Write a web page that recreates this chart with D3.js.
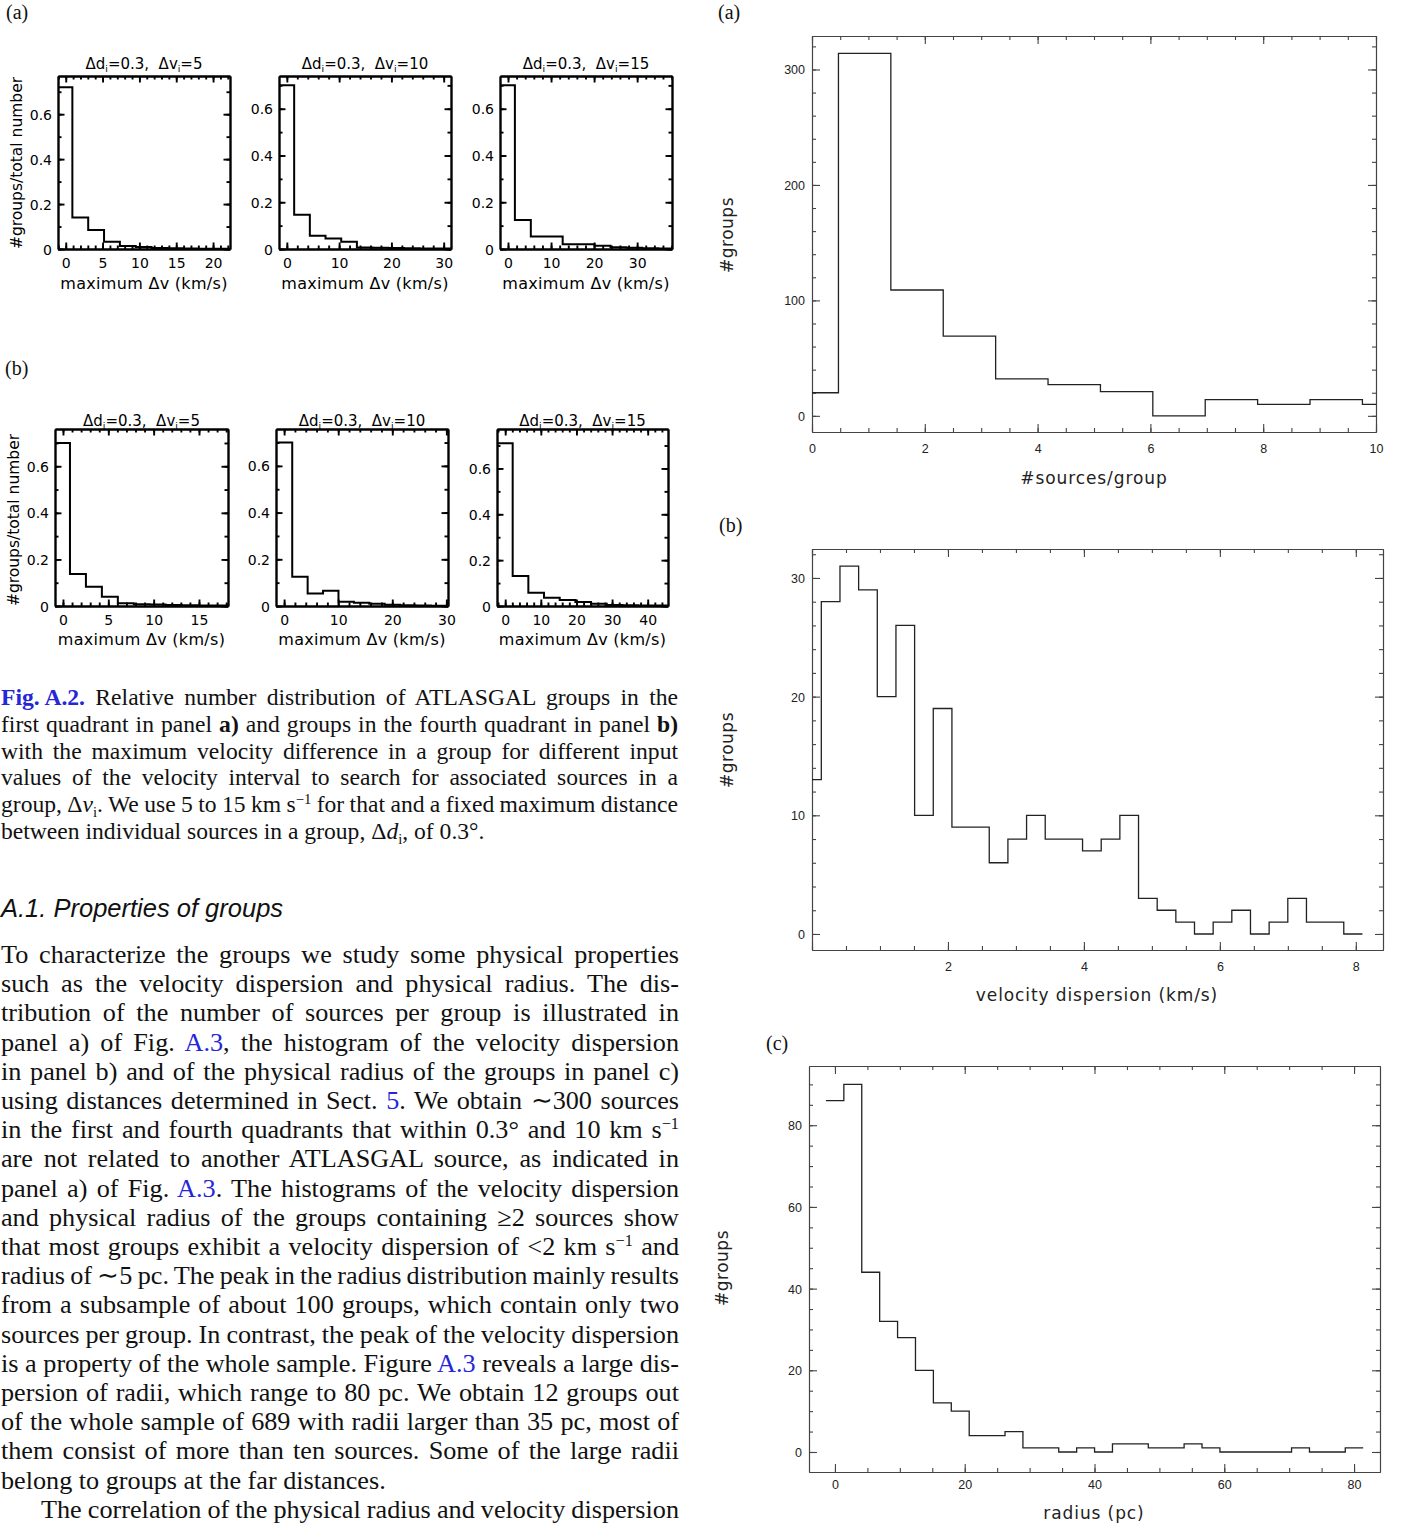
<!DOCTYPE html>
<html>
<head>
<meta charset="utf-8">
<script src="https://cdn.jsdelivr.net/npm/d3@7"></script>
<style>
body { margin: 0; background: #fff; }
svg { display: block; }
</style>
</head>
<body>
<svg id="page" width="1405" height="1526"></svg>
<script>
// ---- data ----
// Fig. A.2: fraction of groups vs maximum velocity difference (km/s)
const dvInputs = [5, 10, 15];
const q1Dv5  = [0.72, 0.14, 0.085, 0.032, 0.013, 0.009, 0.005, 0.003, 0.002, 0.001, 0.001];
const q1Dv10 = [0.70, 0.146, 0.057, 0.045, 0.031, 0.006, 0.005, 0.004, 0.003, 0.002, 0.002];
const q1Dv15 = [0.70, 0.124, 0.053, 0.053, 0.02, 0.02, 0.014, 0.008, 0.005, 0.003, 0.002];
const q4Dv5  = [0.70, 0.137, 0.083, 0.04, 0.012, 0.008, 0.006, 0.004, 0.003, 0.002, 0.002];
const q4Dv10 = [0.70, 0.125, 0.054, 0.065, 0.018, 0.014, 0.01, 0.005, 0.003, 0.002, 0.001];
const q4Dv15 = [0.71, 0.131, 0.058, 0.036, 0.026, 0.017, 0.01, 0.004, 0.003, 0.002, 0.002];
// [first bin edge, bin width] in km/s
const q1Bins = [[-1.25, 2.15], [-1.6, 3.0], [-2.1, 3.7]];
const q4Bins = [[-0.99, 1.76], [-1.35, 2.85], [-2.3, 4.4]];
const q1XTicks = [[0, 5, 10, 15, 20], [0, 10, 20, 30], [0, 10, 20, 30]];
const q4XTicks = [[0, 5, 10, 15], [0, 10, 20, 30], [0, 10, 20, 30, 40]];
const fracYTicks = [0, 0.2, 0.4, 0.6];

// Fig. A.3 (a) #sources/group, (b) velocity dispersion, (c) radius
const srcBins = [-0.46, 0.929];
const srcCounts = [20, 314, 109, 69, 32, 27, 21, 0, 14, 10, 14, 10];
const vdBins = [-0.1375, 0.2745];
const vdCounts = [13, 28, 31, 29, 20, 26, 10, 19, 9, 9, 6, 8, 10, 8, 8, 7, 8, 10, 3, 2, 1, 0, 1, 2, 0, 1, 3, 1, 1, 0];
const radBins = [-1.39, 2.76];
const radCounts = [86, 90, 44, 32, 28, 20, 12, 10, 4, 4, 5, 1, 1, 0, 1, 0, 2, 2, 1, 1, 2, 1, 0, 0, 0, 0, 1, 0, 0, 1];
const srcXTicks = [0, 2, 4, 6, 8, 10], srcYTicks = [0, 100, 200, 300];
const vdXTicks = [2, 4, 6, 8], vdYTicks = [0, 10, 20, 30];
const radXTicks = [0, 20, 40, 60, 80], radYTicks = [0, 20, 40, 60, 80];

const serif = '"Liberation Serif", "Times New Roman", serif';
const plotFont = '"DejaVu Sans", sans-serif';
const tickFont = '"Liberation Sans", Arial, sans-serif';
const linkBlue = '#2626d9';

const svg = d3.select('#page');
let clipCount = 0;

// box with inward ticks on all four sides, made from d3 axes
function drawFrame(g, x, y, o) {
	const [xl, xr] = x.range(), [yb, yt] = y.range();
	const steps = (sc, step) => {
		const [a, b] = sc.domain();
		return d3.range(Math.ceil(a / step - 1e-6), Math.floor(b / step + 1e-6) + 1).map(k => +(k * step).toFixed(4));
	};
	const lab = list => (v => list.some(t => Math.abs(t - v) < 1e-6) ? String(v) : '');
	const xMaj = steps(x, o.xMajor), xMin = steps(x, o.xMinor);
	const yMaj = steps(y, o.yMajor), yMin = steps(y, o.yMinor);
	const none = () => '';
	const defs = [
		[d3.axisBottom(x), xMin, o.small, `translate(0,${yb})`, none],
		[d3.axisTop(x), xMin, o.small, `translate(0,${yt})`, none],
		[d3.axisLeft(y), yMin, o.small, `translate(${xl},0)`, none],
		[d3.axisRight(y), yMin, o.small, `translate(${xr},0)`, none],
		[d3.axisBottom(x), xMaj, o.big, `translate(0,${yb})`, lab(o.xTicks)],
		[d3.axisTop(x), xMaj, o.big, `translate(0,${yt})`, none],
		[d3.axisLeft(y), yMaj, o.big, `translate(${xl},0)`, lab(o.yTicks)],
		[d3.axisRight(y), yMaj, o.big, `translate(${xr},0)`, none]
	];
	defs.forEach(([ax, vals, len, tr, fmt], i) => {
		const a = g.append('g').attr('transform', tr)
			.call(ax.tickValues(vals).tickSize(-len).tickSizeOuter(0).tickFormat(fmt));
		a.attr('font-family', o.font).attr('font-size', o.fontSize);
		a.select('.domain').attr('stroke', o.color).attr('stroke-width', o.lw);
		a.selectAll('.tick line').attr('stroke', o.color).attr('stroke-width', o.lw);
		a.selectAll('text').attr('fill', o.textColor);
		if (i === 4) a.selectAll('text').attr('y', o.xLabelY).attr('dy', 0);
		if (i === 6) a.selectAll('text').attr('x', -o.yLabelGap).attr('dy', '0.36em');
	});
}

function histogram(g, x, y, bins, vals, color, lw) {
	const id = 'clip' + (clipCount++);
	const [xl, xr] = x.range(), [yb, yt] = y.range();
	g.append('clipPath').attr('id', id).append('rect')
		.attr('x', xl).attr('y', yt).attr('width', xr - xl).attr('height', yb - yt);
	const pts = vals.map((v, i) => [bins[0] + i * bins[1], v]);
	pts.push([bins[0] + vals.length * bins[1], vals[vals.length - 1]]);
	g.append('path').datum(pts)
		.attr('clip-path', `url(#${id})`)
		.attr('fill', 'none').attr('stroke', color).attr('stroke-width', lw)
		.attr('d', d3.line().x(d => x(d[0])).y(d => y(d[1])).curve(d3.curveStepAfter));
}

// text made of styled runs; sub/sup shift with dy
function rich(parent, segs, x, y, size, family, color) {
	const t = parent.append('text').attr('x', x).attr('y', y)
		.attr('font-family', family).attr('font-size', size)
		.attr('fill', color || '#111').style('white-space', 'pre');
	let shift = 0;
	segs.forEach(([txt, st]) => {
		const target = st === 'sub' ? size * 0.22 : st === 'sup' ? -size * 0.36 : 0;
		const ts = t.append('tspan').text(txt).attr('dy', target - shift);
		shift = target;
		if (st === 'sub' || st === 'sup') ts.attr('font-size', size * 0.62);
		if (st.includes('B')) ts.attr('font-weight', 'bold');
		if (st.includes('I')) ts.attr('font-style', 'italic');
		if (st.includes('L')) ts.attr('fill', linkBlue);
	});
	return t;
}

function justify(t, width) {
	const n = (t.text().match(/ /g) || []).length;
	const len = t.node().getComputedTextLength();
	if (n) t.style('word-spacing', ((width - len) / n) + 'px');
}

// ---- left: Fig. A.2 small panels ----
const smallRows = [
	{ vals: [q1Dv5, q1Dv10, q1Dv15], bins: q1Bins, ticks: q1XTicks, top: 76, bottom: 249, titleY: 69,
	  lefts: [58, 279, 500], rights: [230, 451, 672], xDom: [[-1.05, 22.3], [-1.5, 31.4], [-1.86, 38.1]],
	  yTop: [0.77, 0.74, 0.74], ylabX: 22, ylabY: 163, xlabY: 289 },
	{ vals: [q4Dv5, q4Dv10, q4Dv15], bins: q4Bins, ticks: q4XTicks, top: 429, bottom: 606, titleY: 426,
	  lefts: [55, 276, 497], rights: [228, 448, 668], xDom: [[-0.88, 18.2], [-1.5, 30.3], [-2.3, 45.7]],
	  yTop: [0.76, 0.758, 0.772], ylabX: 19, ylabY: 520, xlabY: 645 }
];

smallRows.forEach(row => {
	row.vals.forEach((vals, i) => {
		const g = svg.append('g');
		const x = d3.scaleLinear().domain(row.xDom[i]).range([row.lefts[i], row.rights[i]]);
		const y = d3.scaleLinear().domain([0, row.yTop[i]]).range([row.bottom, row.top]);
		const step = row.ticks[i][1] - row.ticks[i][0];
		drawFrame(g, x, y, {
			xMajor: step, xMinor: step / 5, yMajor: 0.2, yMinor: 0.1,
			big: 6.5, small: 3.5, color: '#000', lw: 1.9,
			xTicks: row.ticks[i], yTicks: fracYTicks,
			font: plotFont, fontSize: 14, textColor: '#000', xLabelY: 19, yLabelGap: 6
		});
		histogram(g, x, y, row.bins[i], vals, '#000', 2);
		const cx = (row.lefts[i] + row.rights[i]) / 2;
		rich(g, [['Δd', ''], ['i', 'sub'], ['=0.3,  Δv', ''], ['i', 'sub'], ['=' + dvInputs[i], '']],
			cx, row.titleY, 15, plotFont, '#000').attr('text-anchor', 'middle');
		g.append('text').attr('x', cx).attr('y', row.xlabY).attr('text-anchor', 'middle')
			.attr('font-family', plotFont).attr('font-size', 16).attr('fill', '#000')
			.style('letter-spacing', '0.3px').text('maximum Δv (km/s)');
		if (i === 0) {
			g.append('text').attr('transform', `translate(${row.ylabX},${row.ylabY}) rotate(-90)`)
				.attr('text-anchor', 'middle').attr('font-family', plotFont).attr('font-size', 15.5)
				.attr('fill', '#000').text('#groups/total number');
		}
	});
});

// ---- right: Fig. A.3 panels ----
const bigPanels = [
	{ vals: srcCounts, bins: srcBins, box: [812, 36, 1376, 432], xDom: [0, 10], yDom: [-14, 329],
	  xMajor: 2, xMinor: 0.5, yMajor: 100, yMinor: 20, xTicks: srcXTicks, yTicks: srcYTicks,
	  xLabelY: 21, xlab: '#sources/group', xlabPos: [1094, 484], ylabPos: [733, 235] },
	{ vals: vdCounts, bins: vdBins, box: [812, 549, 1383, 950], xDom: [0, 8.4], yDom: [-1.35, 32.44],
	  xMajor: 2, xMinor: 0.5, yMajor: 10, yMinor: 2, xTicks: vdXTicks, yTicks: vdYTicks,
	  xLabelY: 21, xlab: 'velocity dispersion (km/s)', xlabPos: [1097, 1001], ylabPos: [733, 750] },
	{ vals: radCounts, bins: radBins, box: [809, 1066, 1380, 1472], xDom: [-4, 84], yDom: [-4.9, 94.5],
	  xMajor: 20, xMinor: 5, yMajor: 20, yMinor: 5, xTicks: radXTicks, yTicks: radYTicks,
	  xLabelY: 17, xlab: 'radius (pc)', xlabPos: [1094, 1519], ylabPos: [728, 1268] }
];

bigPanels.forEach(p => {
	const g = svg.append('g');
	const x = d3.scaleLinear().domain(p.xDom).range([p.box[0], p.box[2]]);
	const y = d3.scaleLinear().domain(p.yDom).range([p.box[3], p.box[1]]);
	drawFrame(g, x, y, {
		xMajor: p.xMajor, xMinor: p.xMinor, yMajor: p.yMajor, yMinor: p.yMinor,
		big: 8, small: 4, color: '#444', lw: 1.1,
		xTicks: p.xTicks, yTicks: p.yTicks,
		font: tickFont, fontSize: 12.5, textColor: '#222', xLabelY: p.xLabelY, yLabelGap: 7
	});
	histogram(g, x, y, p.bins, p.vals, '#222', 1.3);
	g.append('text').attr('x', p.xlabPos[0]).attr('y', p.xlabPos[1]).attr('text-anchor', 'middle')
		.attr('font-family', plotFont).attr('font-size', 17).attr('fill', '#222')
		.style('letter-spacing', '0.9px').text(p.xlab);
	g.append('text').attr('transform', `translate(${p.ylabPos[0]},${p.ylabPos[1]}) rotate(-90)`)
		.attr('text-anchor', 'middle').attr('font-family', plotFont).attr('font-size', 17)
		.attr('fill', '#222').style('letter-spacing', '0.5px').text('#groups');
});

// panel letters
[['(a)', 6, 19], ['(b)', 5, 375], ['(a)', 718, 19], ['(b)', 719, 532], ['(c)', 766, 1050]].forEach(([s, x, y]) => {
	svg.append('text').attr('x', x).attr('y', y).attr('font-family', serif)
		.attr('font-size', 20).attr('fill', '#111').text(s);
});

// ---- caption and body text ----
// thin space inside "Fig. A.2." so justification leaves it tight
const captionLines = [
	[['Fig.\u2009A.2.', 'LB'], [' Relative number distribution of ATLASGAL groups in the', '']],
	[['first quadrant in panel ', ''], ['a)', 'B'], [' and groups in the fourth quadrant in panel ', ''], ['b)', 'B']],
	[['with the maximum velocity difference in a group for different input', '']],
	[['values of the velocity interval to search for associated sources in a', '']],
	[['group, Δ', ''], ['v', 'I'], ['i', 'sub'], ['. We use 5 to 15 km s', ''], ['−1', 'sup'], [' for that and a fixed maximum distance', '']],
	[['between individual sources in a group, Δ', ''], ['d', 'I'], ['i', 'sub'], [', of 0.3°.', '']]
];
captionLines.forEach((segs, i) => {
	const t = rich(svg, segs, 1, 705 + i * 26.8, 23.6, serif);
	if (i < captionLines.length - 1) justify(t, 677);
});

svg.append('text').attr('x', 1).attr('y', 917).attr('font-family', tickFont)
	.attr('font-style', 'italic').attr('font-size', 25.5).attr('fill', '#111')
	.text('A.1. Properties of groups');

const bodyLines = [
	[['To characterize the groups we study some physical properties', '']],
	[['such as the velocity dispersion and physical radius. The dis-', '']],
	[['tribution of the number of sources per group is illustrated in', '']],
	[['panel a) of Fig. ', ''], ['A.3', 'L'], [', the histogram of the velocity dispersion', '']],
	[['in panel b) and of the physical radius of the groups in panel c)', '']],
	[['using distances determined in Sect. ', ''], ['5', 'L'], ['. We obtain ∼300 sources', '']],
	[['in the first and fourth quadrants that within 0.3° and 10 km s', ''], ['−1', 'sup']],
	[['are not related to another ATLASGAL source, as indicated in', '']],
	[['panel a) of Fig. ', ''], ['A.3', 'L'], ['. The histograms of the velocity dispersion', '']],
	[['and physical radius of the groups containing ≥2 sources show', '']],
	[['that most groups exhibit a velocity dispersion of <2 km s', ''], ['−1', 'sup'], [' and', '']],
	[['radius of ∼5 pc. The peak in the radius distribution mainly results', '']],
	[['from a subsample of about 100 groups, which contain only two', '']],
	[['sources per group. In contrast, the peak of the velocity dispersion', '']],
	[['is a property of the whole sample. Figure ', ''], ['A.3', 'L'], [' reveals a large dis-', '']],
	[['persion of radii, which range to 80 pc. We obtain 12 groups out', '']],
	[['of the whole sample of 689 with radii larger than 35 pc, most of', '']],
	[['them consist of more than ten sources. Some of the large radii', '']],
	[['belong to groups at the far distances.', '']],
	[['The correlation of the physical radius and velocity dispersion', '']]
];
bodyLines.forEach((segs, i) => {
	const indent = i === 19 ? 40 : 0;
	const t = rich(svg, segs, 1 + indent, 963 + i * 29.2, 26.2, serif);
	if (i !== 18) justify(t, 678 - indent);
});
</script>
</body>
</html>
